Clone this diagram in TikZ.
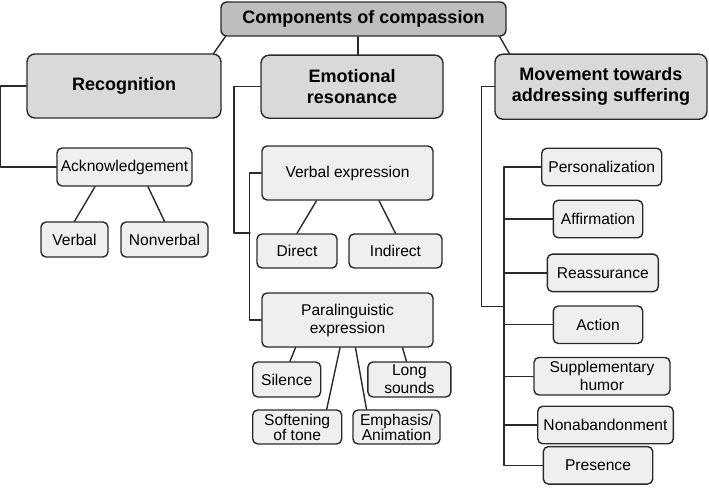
\documentclass[tikz,border=0pt]{standalone}
\usepackage{fontspec}
\setmainfont{Liberation Sans}
\definecolor{topgray}{HTML}{BEBEBE}
\definecolor{midgray}{HTML}{D9D9D9}
\definecolor{leafgray}{HTML}{EFEFEF}
\definecolor{wirecolor}{HTML}{2A2A2A}
\begin{document}
\begin{tikzpicture}[x=1pt, y=-1pt, line width=1.4pt, line cap=round, line join=round,
	box/.style={draw=wirecolor, rounded corners=5pt, inner sep=0pt, align=center,
	            fill=leafgray, font=\fontsize{15.6}{18}\selectfont},
	headbox/.style={box, rounded corners=8pt, fill=midgray,
	                font=\fontsize{18}{21}\selectfont\bfseries},
	wire/.style={draw=wirecolor, line width=1.4pt}]
	\useasboundingbox (0,0) rectangle (709,495);
	
	% Top and first level
	\node (node top) at (363.5,19) [headbox, fill=topgray, rounded corners=6pt,
	      minimum width=285, minimum height=34] {Components of compassion};
	\node (node rec) at (124,86) [headbox, minimum width=194, minimum height=64]
	      {Recognition};
	\node (node emo) at (352,86.7) [headbox, minimum width=182, minimum height=63]
	      {Emotional\\resonance};
	\node (node mov) at (601,86.7) [headbox, minimum width=212, minimum height=65]
	      {Movement towards\\addressing suffering};
	
	% Recognition branch
	\node (node ack) at (124.5,167) [box, minimum width=135, minimum height=38]
	      {Acknowledgement};
	\node (node verbal) at (74.5,239.5) [box, minimum width=67, minimum height=35]
	      {Verbal};
	\node (node nonverbal) at (164.5,239.5) [box, minimum width=87, minimum height=35]
	      {Nonverbal};
	
	% Emotional resonance branch
	\node (node vex) at (347.5,173) [box, minimum width=171, minimum height=54]
	      {Verbal expression};
	\node (node direct) at (297,251) [box, minimum width=80, minimum height=34]
	      {Direct};
	\node (node indirect) at (395.5,251) [box, minimum width=93, minimum height=34]
	      {Indirect};
	\node (node pex) at (347.5,320) [box, minimum width=171, minimum height=54]
	      {Paralinguistic\\expression};
	\node (node silence) at (286.7,379.5) [box, minimum width=68, minimum height=35]
	      {Silence};
	\node (node long) at (409.4,379.5) [box, minimum width=83, minimum height=35]
	      {Long\\sounds};
	\node (node soft) at (297.2,427) [box, minimum width=89, minimum height=34,
	      font=\fontsize{15.6}{15}\selectfont] {Softening\\of tone};
	\node (node emph) at (396.5,427) [box, minimum width=87, minimum height=34,
	      font=\fontsize{15.6}{15}\selectfont] {Emphasis/\\Animation};
	
	% Movement branch
	\foreach \name/\cx/\cy/\w/\txt in {
		pers/601.7/167/120/Personalization,
		aff/598/219/89.4/Affirmation,
		reas/602.8/272.9/111/Reassurance,
		act/598/324.7/89.4/Action,
		sup/602/376.2/136/{Supplementary\\humor},
		nonab/605.5/425/135.6/Nonabandonment,
		pres/598/465.3/109.4/Presence}{
		\node (node \name) at (\cx,\cy) [box, minimum width=\w, minimum height=37.5]
		      {\txt};
	}
	
	% Wires from the top box
	\draw [wire] ([xshift=5]node top.south west) -- ([xshift=-8]node rec.north east);
	\draw [wire] ([xshift=-5.5]node top.south) -- ([xshift=-5.5]node top.south |- node emo.north);
	\draw [wire] ([xshift=-7]node top.south east) -- ([xshift=15]node mov.north west);
	
	% Wires in the recognition branch
	\draw [wire] (node rec.west) -- ++(-26,0) |- (node ack.west);
	\draw [wire] ([xshift=-29.5]node ack.south) -- (node verbal.north);
	\draw [wire] ([xshift=23.5]node ack.south) -- (node nonverbal.north);
	
	% Wires in the emotional resonance branch
	\coordinate (emo join) at (250,233);
	\draw [wire] (node emo.west) -| ([xshift=-16]emo join) -- (emo join);
	\draw [wire] (node vex.west) -- ++(-12,0) |- (node pex.west);
	\draw [wire] ([xshift=-31]node vex.south) -- (node direct.north);
	\draw [wire] ([xshift=31.5]node vex.south) -- (node indirect.north);
	\draw [wire] ([xshift=-52]node pex.south) -- ([xshift=3.3]node silence.north);
	\draw [wire] ([xshift=-7.5]node pex.south) -- ([xshift=29.5]node soft.north);
	\draw [wire] ([xshift=8]node pex.south) -- ([xshift=-30]node emph.north);
	\draw [wire] ([xshift=55]node pex.south) -- ([xshift=-3]node long.north);
	
	% Wires in the movement branch
	\coordinate (trunk) at (504,0);
	\coordinate (mov join) at (504,306.7);
	\draw [wire] (node mov.west) -| ([xshift=-22.3]mov join) -- (mov join);
	\draw [wire] (node pers.west) -| (node pres.west -| trunk) -- (node pres.west);
	\foreach \name in {aff, reas, act, sup, nonab}{
		\draw [wire] (node \name.west) -- (node \name.west -| trunk);
	}
\end{tikzpicture}
\end{document}
